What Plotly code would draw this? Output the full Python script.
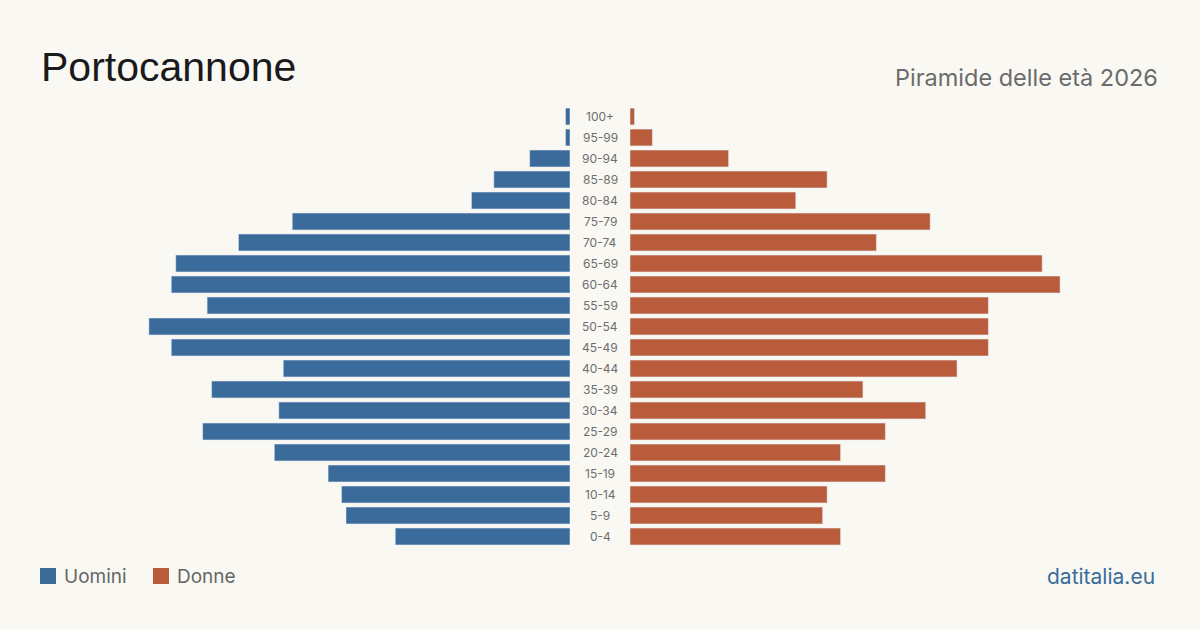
import plotly.graph_objects as go

age_groups = ["0-4", "5-9", "10-14", "15-19", "20-24", "25-29", "30-34", "35-39",
              "40-44", "45-49", "50-54", "55-59", "60-64", "65-69", "70-74", "75-79",
              "80-84", "85-89", "90-94", "95-99", "100+"]
men = [39, 50, 51, 54, 66, 82, 65, 80, 64, 89, 94, 81, 89, 88, 74, 62, 22, 17, 9, 1, 1]
women = [47, 43, 44, 57, 47, 57, 66, 52, 73, 80, 80, 80, 96, 92, 55, 67, 37, 44, 22, 5, 1]

title = "Portocannone"
subtitle = "Piramide delle età 2026"
source = "datitalia.eu"
series_names = ["Uomini", "Donne"]

BG = "#f9f8f3"
BLUE = "#3b6b9b"
ORANGE = "#b95c3c"
W, H = 1200, 630
SCALE_MAX = 100

def px_x(v):
    return v / W

def px_y(v):
    return 1 - v / H

fig = go.Figure()
fig.add_trace(go.Bar(y=age_groups, x=men, orientation="h", marker_color=BLUE,
                     name=series_names[0], xaxis="x", yaxis="y", hoverinfo="x+y"))
fig.add_trace(go.Bar(y=age_groups, x=women, orientation="h", marker_color=ORANGE,
                     name=series_names[1], xaxis="x2", yaxis="y", hoverinfo="x+y"))

left_end = 570
right_start = 630
unit_px = 4.48
span = SCALE_MAX * unit_px

axis_common = dict(showgrid=False, zeroline=False, showticklabels=False, ticks="",
                   showline=False, fixedrange=True)
fig.update_layout(
    width=W, height=H,
    paper_bgcolor=BG, plot_bgcolor=BG,
    margin=dict(l=0, r=0, t=0, b=0),
    showlegend=False,
    bargap=0.2,
    font=dict(family="Inter, Liberation Sans, sans-serif"),
    xaxis=dict(domain=[px_x(left_end - span), px_x(left_end)], range=[SCALE_MAX, 0],
               anchor="y", **axis_common),
    xaxis2=dict(domain=[px_x(right_start), px_x(right_start + span)], range=[0, SCALE_MAX],
                anchor="y", **axis_common),
    yaxis=dict(domain=[px_y(547), px_y(106)], categoryorder="array",
               categoryarray=age_groups, range=[-0.5, len(age_groups) - 0.5],
               **axis_common),
)

annotations = []
for ag in age_groups:
    annotations.append(dict(x=0.5, xref="paper", y=ag, yref="y", text=ag,
                            showarrow=False, xanchor="center", yanchor="middle",
                            font=dict(size=12, color="#6e6e6e",
                                      family="Inter, Liberation Sans, sans-serif")))

annotations.append(dict(x=px_x(39), y=px_y(67), xref="paper", yref="paper", text=title,
                        showarrow=False, xanchor="left", yanchor="middle",
                        font=dict(size=41, color="#1a1a1a",
                                  family="Liberation Sans, Arial, sans-serif")))
annotations.append(dict(x=px_x(1160), y=px_y(77), xref="paper", yref="paper", text=subtitle,
                        showarrow=False, xanchor="right", yanchor="middle",
                        font=dict(size=23.5, color="#6b6b6b",
                                  family="Inter, Liberation Sans, sans-serif")))
annotations.append(dict(x=px_x(1157), y=px_y(576), xref="paper", yref="paper", text=source,
                        showarrow=False, xanchor="right", yanchor="middle",
                        font=dict(size=21, color=BLUE,
                                  family="Inter, Liberation Sans, sans-serif")))
# legend
legend_items = [(40, 62, series_names[0], BLUE), (153, 175, series_names[1], ORANGE)]
shapes = []
for sx, tx, name, col in legend_items:
    shapes.append(dict(type="rect", xref="paper", yref="paper",
                       x0=px_x(sx), x1=px_x(sx + 16), y0=px_y(584), y1=px_y(568),
                       fillcolor=col, line=dict(width=0)))
    annotations.append(dict(x=px_x(tx), y=px_y(576), xref="paper", yref="paper", text=name,
                            showarrow=False, xanchor="left", yanchor="middle",
                            font=dict(size=19, color="#666666",
                                      family="Inter, Liberation Sans, sans-serif")))

fig.update_layout(annotations=annotations, shapes=shapes)
fig.write_html("out.html")
